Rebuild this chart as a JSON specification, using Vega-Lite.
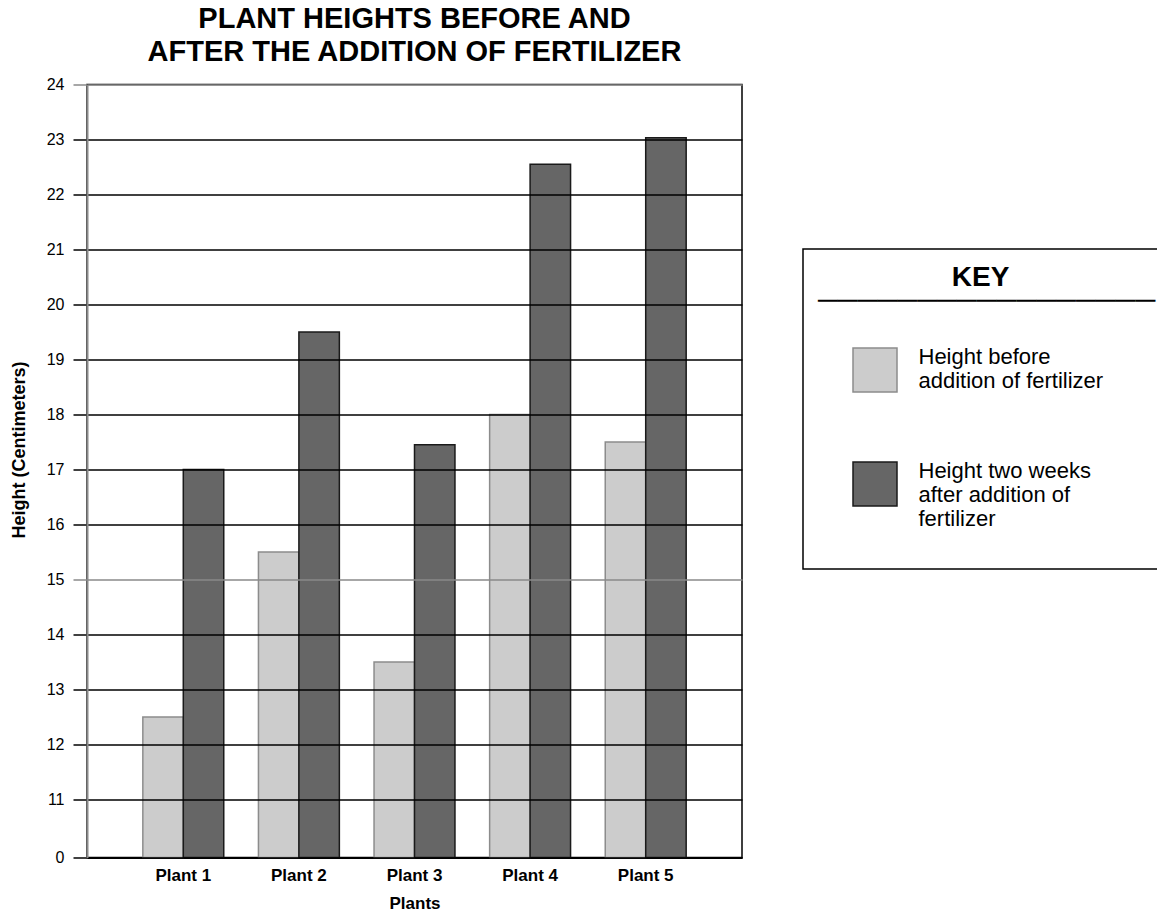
{
  "$schema": "https://vega.github.io/schema/vega-lite/v6.json",
  "autosize": {"type": "none"},
  "width": 655,
  "height": 773,
  "padding": {"left": 87, "top": 84.5, "right": 415, "bottom": 62.5},
  "background": "white",
  "title": {
    "text": ["PLANT HEIGHTS BEFORE AND", "AFTER THE ADDITION OF FERTILIZER"],
    "fontSize": 29,
    "fontWeight": "bold",
    "lineHeight": 33,
    "anchor": "middle",
    "frame": "group",
    "offset": 10,
    "color": "black"
  },
  "data": {
    "values": [
      {"plant": "Plant 1", "series": "Height before addition of fertilizer", "height": 12.5},
      {"plant": "Plant 1", "series": "Height two weeks after addition of fertilizer", "height": 17},
      {"plant": "Plant 2", "series": "Height before addition of fertilizer", "height": 15.5},
      {"plant": "Plant 2", "series": "Height two weeks after addition of fertilizer", "height": 19.5},
      {"plant": "Plant 3", "series": "Height before addition of fertilizer", "height": 13.5},
      {"plant": "Plant 3", "series": "Height two weeks after addition of fertilizer", "height": 17.45},
      {"plant": "Plant 4", "series": "Height before addition of fertilizer", "height": 18},
      {"plant": "Plant 4", "series": "Height two weeks after addition of fertilizer", "height": 22.55},
      {"plant": "Plant 5", "series": "Height before addition of fertilizer", "height": 17.5},
      {"plant": "Plant 5", "series": "Height two weeks after addition of fertilizer", "height": 23.03}
    ]
  },
  "mark": {"type": "bar", "strokeWidth": 1.5},
  "encoding": {
    "x": {
      "field": "plant",
      "type": "nominal",
      "scale": {"paddingInner": 0.3, "paddingOuter": 0.483},
      "axis": {
        "title": "Plants",
        "titleFontSize": 17,
        "titleFontWeight": "bold",
        "titlePadding": 12,
        "labelAngle": 0,
        "labelFontSize": 17,
        "labelFontWeight": "bold",
        "labelPadding": 10,
        "ticks": false,
        "domainColor": "black",
        "domainWidth": 2
      }
    },
    "xOffset": {
      "field": "series",
      "type": "nominal",
      "sort": ["Height before addition of fertilizer", "Height two weeks after addition of fertilizer"],
      "scale": {"paddingInner": 0, "paddingOuter": 0}
    },
    "y": {
      "field": "height",
      "type": "quantitative",
      "scale": {"domain": [0, 11, 24], "range": [773, 715, 0], "nice": false, "zero": false},
      "axis": {
        "title": "Height (Centimeters)",
        "titleFontSize": 18,
        "titleFontWeight": "bold",
        "titleX": -68,
        "titleY": 365,
        "titleAlign": "center",
        "titleBaseline": "middle",
        "titleAngle": 270,
        "values": [0, 11, 12, 13, 14, 15, 16, 17, 18, 19, 20, 21, 22, 23, 24],
        "labelFontSize": 16,
        "labelPadding": 9,
        "ticks": true,
        "tickSize": 14,
        "tickWidth": 1.5,
        "tickOpacity": 1,
        "tickColor": {"condition": {"test": "datum.value === 15 || datum.value === 24", "value": "#8a8a8a"}, "value": "black"},
        "grid": true,
        "gridWidth": 1.5,
        "gridColor": {"condition": {"test": "datum.value === 15 || datum.value === 24", "value": "#8a8a8a"}, "value": "black"},
        "domainColor": "#8a8a8a",
        "domainWidth": 2,
        "zindex": 1
      }
    },
    "fill": {
      "field": "series",
      "type": "nominal",
      "sort": ["Height before addition of fertilizer", "Height two weeks after addition of fertilizer"],
      "scale": {"domain": ["Height before addition of fertilizer", "Height two weeks after addition of fertilizer"], "range": ["#cccccc", "#666666"]},
      "legend": {
        "title": ["⠀⠀⠀⠀⠀⠀\u00a0KEY", "─────────────────"],
        "orient": "none",
        "legendX": 716,
        "legendY": 164.5,
        "labelExpr": "datum.value == 'Height before addition of fertilizer' ? ['Height before', 'addition of fertilizer'] : ['Height two weeks', 'after addition of', 'fertilizer', '\u00a0']"
      }
    },
    "stroke": {
      "field": "series",
      "type": "nominal",
      "sort": ["Height before addition of fertilizer", "Height two weeks after addition of fertilizer"],
      "scale": {"domain": ["Height before addition of fertilizer", "Height two weeks after addition of fertilizer"], "range": ["#8c8c8c", "#1a1a1a"]},
      "legend": {
        "title": ["⠀⠀⠀⠀⠀⠀\u00a0KEY", "─────────────────"],
        "orient": "none",
        "legendX": 716,
        "legendY": 164.5,
        "labelExpr": "datum.value == 'Height before addition of fertilizer' ? ['Height before', 'addition of fertilizer'] : ['Height two weeks', 'after addition of', 'fertilizer', '\u00a0']"
      }
    }
  },
  "config": {
    "font": "Liberation Sans",
    "view": {"stroke": "black", "strokeWidth": 1.5},
    "axis": {"labelColor": "black", "titleColor": "black", "labelFont": "Liberation Sans", "titleFont": "Liberation Sans"},
    "legend": {
      "padding": 15,
      "strokeColor": "black",
      "strokeWidth": 1.5,
      "titleFontSize": 28,
      "titleFontWeight": "bold",
      "titleColor": "black",
      "titleAnchor": "start",
      "titleAlign": "left",
      "titleLineHeight": 23,
      "titlePadding": 32,
      "titleLimit": 600,
      "symbolType": "square",
      "symbolSize": 1936,
      "symbolStrokeWidth": 1.5,
      "symbolOpacity": 1,
      "symbolOffset": 34,
      "labelOffset": 20.5,
      "labelFontSize": 22,
      "labelBaseline": "line-bottom",
      "labelColor": "black",
      "labelLimit": 500,
      "rowPadding": 64
    }
  }
}
